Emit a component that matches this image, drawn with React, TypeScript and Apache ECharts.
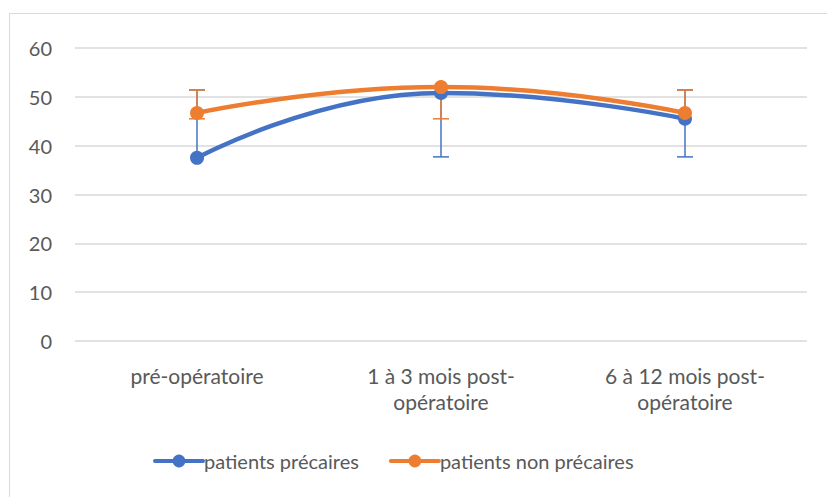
import React, { useEffect, useRef } from "react";
import * as echarts from "echarts";

const categories = ["pré-opératoire", "1 à 3 mois post-\nopératoire", "6 à 12 mois post-\nopératoire"];
const seriesNames = ["patients précaires", "patients non précaires"];
const blueValues = [37.5, 50.8, 45.5];
const orangeValues = [46.7, 52.0, 46.7];
const blueLow = [37.5, 37.7, 37.7];
const blueHigh = [51.4, 50.8, 51.4];
const orangeLow = [45.5, 45.5, 46.7];
const orangeHigh = [51.4, 52.0, 51.4];
const yTicks = { min: 0, max: 60, interval: 10 };

const BLUE = "#4472C4";
const ORANGE = "#ED7D31";
const FONT = "Lato, 'Open Sans', sans-serif";

function errorSeries(name: string, values: number[], low: number[], high: number[], color: string, z: number) {
  return {
    type: "custom",
    name: name + "-err",
    z,
    silent: true,
    data: values.map((v, i) => [i, v, low[i], high[i]]),
    renderItem: (params: any, api: any) => {
      const idx = api.value(0);
      const v = api.value(1);
      const lo = api.value(2);
      const hi = api.value(3);
      const pLo = api.coord([idx, lo]);
      const pHi = api.coord([idx, hi]);
      const pV = api.coord([idx, v]);
      const children: any[] = [
        {
          type: "line",
          shape: { x1: pLo[0], y1: pLo[1], x2: pHi[0], y2: pHi[1] },
          style: { stroke: color, lineWidth: 1.5 },
        },
      ];
      const hw = 8;
      if (Math.abs(pLo[1] - pV[1]) > 0.5) {
        children.push({
          type: "line",
          shape: { x1: pLo[0] - hw, y1: pLo[1], x2: pLo[0] + hw, y2: pLo[1] },
          style: { stroke: color, lineWidth: 1.5 },
        });
      }
      if (Math.abs(pHi[1] - pV[1]) > 0.5) {
        children.push({
          type: "line",
          shape: { x1: pHi[0] - hw, y1: pHi[1], x2: pHi[0] + hw, y2: pHi[1] },
          style: { stroke: color, lineWidth: 1.5 },
        });
      }
      return { type: "group", children };
    },
  };
}

export default function App() {
  const ref = useRef<HTMLDivElement>(null);
  useEffect(() => {
    if (!ref.current) return;
    const chart = echarts.init(ref.current, null, { renderer: "svg" });
    chart.setOption({
      animation: false,
      backgroundColor: "#ffffff",
      textStyle: { fontFamily: FONT },
      graphic: [
        {
          type: "polyline",
          shape: { points: [[9.5, 497], [9.5, 13.5], [827, 13.5]] },
          style: { stroke: "#d9d9d9", lineWidth: 1, fill: "none" },
          silent: true,
        },
      ],
      grid: { left: 75, right: 20, top: 48, bottom: 156, containLabel: false },
      legend: {
        bottom: 21,
        left: 148,
        itemWidth: 48,
        itemHeight: 16,
        itemGap: 30,
        lineStyle: { width: 4, cap: "round" },
        textStyle: { color: "#595959", fontSize: 20, fontFamily: FONT, padding: [0, 0, 0, -4] },
        data: seriesNames,
      },
      xAxis: {
        type: "category",
        data: categories,
        boundaryGap: true,
        axisLine: { show: false },
        axisTick: { show: false },
        axisLabel: { color: "#595959", fontSize: 21, lineHeight: 26, margin: 21, fontFamily: FONT, interval: 0 },
      },
      yAxis: {
        type: "value",
        min: yTicks.min,
        max: yTicks.max,
        interval: yTicks.interval,
        axisLine: { show: false },
        axisTick: { show: false },
        axisLabel: { color: "#595959", fontSize: 20, margin: 23, fontFamily: FONT },
        splitLine: { lineStyle: { color: "#d9d9d9", width: 1.5 } },
      },
      series: [
        errorSeries(seriesNames[0], blueValues, blueLow, blueHigh, BLUE, 1),
        errorSeries(seriesNames[1], orangeValues, orangeLow, orangeHigh, ORANGE, 2),
        {
          type: "line",
          name: seriesNames[0],
          data: blueValues,
          smooth: 0.5,
          symbol: "circle",
          symbolSize: 14,
          z: 3,
          lineStyle: { color: BLUE, width: 4.5 },
          itemStyle: { color: BLUE },
        },
        {
          type: "line",
          name: seriesNames[1],
          data: orangeValues,
          smooth: 0.5,
          symbol: "circle",
          symbolSize: 14,
          z: 4,
          lineStyle: { color: ORANGE, width: 4.5 },
          itemStyle: { color: ORANGE },
        },
      ],
    });
    return () => chart.dispose();
  }, []);
  return <div ref={ref} style={{ position: "fixed", left: 0, top: 0, width: 827, height: 497 }} />;
}
